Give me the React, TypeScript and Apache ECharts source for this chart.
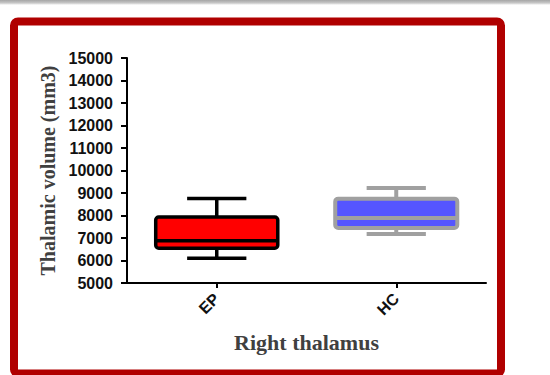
import React, { useEffect, useRef } from "react";
import * as echarts from "echarts";

const categories = ["EP", "HC"];
const minValues = [6100, 7180];
const q1Values = [6550, 7450];
const medianValues = [6880, 7890];
const q3Values = [7930, 8750];
const maxValues = [8760, 9220];
const yTicks = { min: 5000, max: 15000, interval: 1000 };

const fillColors = ["#ff0000", "#5555ff"];
const strokeColors = ["#000000", "#a0a0a0"];

export default function App() {
  const ref = useRef<HTMLDivElement>(null);
  useEffect(() => {
    if (!ref.current) return;
    const chart = echarts.init(ref.current, null, { renderer: "svg" });
    const data = categories.map((_, i) => [
      i,
      minValues[i],
      q1Values[i],
      medianValues[i],
      q3Values[i],
      maxValues[i],
    ]);
    chart.setOption({
      animation: false,
      backgroundColor: "#ffffff",
      graphic: [
        {
          type: "rect",
          shape: { x: 0, y: 0, width: 550, height: 5 },
          style: {
            fill: new echarts.graphic.LinearGradient(0, 0, 0, 1, [
              { offset: 0, color: "#a6a6a6" },
              { offset: 0.6, color: "#c8c8c8" },
              { offset: 1, color: "#ffffff" },
            ]),
          },
          silent: true,
        },
        {
          type: "rect",
          shape: { x: 14, y: 21.5, width: 487, height: 352, r: 4 },
          style: { fill: "none", stroke: "#b00000", lineWidth: 8 },
          silent: true,
        },
      ],
      grid: { left: 127, right: 64, top: 58, bottom: 92 },
      xAxis: {
        type: "category",
        data: categories,
        boundaryGap: true,
        name: "Right thalamus",
        nameLocation: "middle",
        nameGap: 48,
        nameTextStyle: {
          fontFamily: "Liberation Serif",
          fontWeight: "bold",
          fontSize: 22,
          color: "#404040",
        },
        axisLine: { show: true, lineStyle: { color: "#000", width: 2 } },
        axisTick: { show: true, alignWithLabel: true, length: 5, lineStyle: { color: "#000", width: 2 } },
        axisLabel: {
          rotate: 45,
          margin: 13,
          fontFamily: "Liberation Sans",
          fontWeight: "bold",
          fontSize: 16,
          color: "#111111",
        },
        splitLine: { show: false },
      },
      yAxis: {
        type: "value",
        min: yTicks.min,
        max: yTicks.max,
        interval: yTicks.interval,
        name: "Thalamic volume (mm3)",
        nameLocation: "middle",
        nameGap: 62,
        nameTextStyle: {
          fontFamily: "Liberation Serif",
          fontWeight: "bold",
          fontSize: 20,
          color: "#404040",
        },
        axisLine: { show: true, lineStyle: { color: "#000", width: 2 } },
        axisTick: { show: true, length: 6, lineStyle: { color: "#000", width: 2 } },
        axisLabel: {
          margin: 14,
          formatter: (v: number) => String(v),
          fontFamily: "Liberation Sans",
          fontWeight: "bold",
          fontSize: 16,
          color: "#111111",
        },
        splitLine: { show: false },
      },
      series: [
        {
          type: "custom",
          data,
          encode: { x: 0, y: [1, 2, 3, 4, 5] },
          renderItem: (params: any, api: any) => {
            const i = api.value(0);
            const idx = params.dataIndex;
            const pMin = api.coord([i, api.value(1)]);
            const pQ1 = api.coord([i, api.value(2)]);
            const pMed = api.coord([i, api.value(3)]);
            const pQ3 = api.coord([i, api.value(4)]);
            const pMax = api.coord([i, api.value(5)]);
            const band = api.size([1, 0])[0];
            const bw = band * 0.68;
            const cw = band * 0.33;
            const cx = pMed[0];
            const stroke = strokeColors[idx];
            const fill = fillColors[idx];
            const lw = idx === 0 ? 3.5 : 4;
            const ls = { stroke, lineWidth: lw };
            return {
              type: "group",
              children: [
                { type: "line", shape: { x1: cx, y1: pMax[1], x2: cx, y2: pQ3[1] }, style: ls },
                { type: "line", shape: { x1: cx, y1: pQ1[1], x2: cx, y2: pMin[1] }, style: ls },
                { type: "line", shape: { x1: cx - cw / 2, y1: pMax[1], x2: cx + cw / 2, y2: pMax[1] }, style: ls },
                { type: "line", shape: { x1: cx - cw / 2, y1: pMin[1], x2: cx + cw / 2, y2: pMin[1] }, style: ls },
                {
                  type: "rect",
                  shape: { x: cx - bw / 2, y: pQ3[1], width: bw, height: pQ1[1] - pQ3[1], r: 3 },
                  style: { fill, stroke, lineWidth: lw },
                },
                { type: "line", shape: { x1: cx - bw / 2, y1: pMed[1], x2: cx + bw / 2, y2: pMed[1] }, style: ls },
              ],
            };
          },
        },
      ],
    });
    return () => chart.dispose();
  }, []);
  return (
    <div
      ref={ref}
      style={{ position: "absolute", left: 0, top: 0, width: 550, height: 375 }}
    />
  );
}
